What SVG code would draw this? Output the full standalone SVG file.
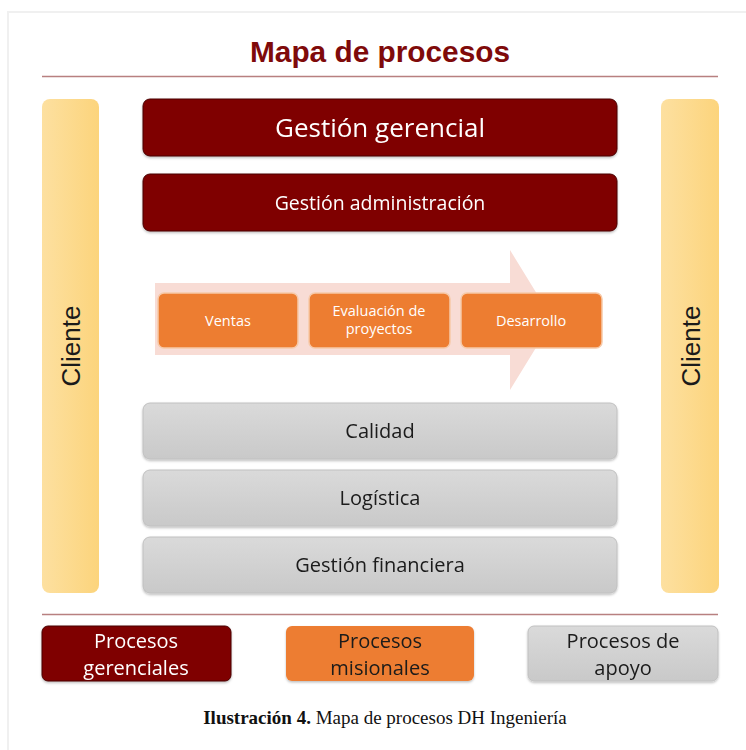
<svg xmlns="http://www.w3.org/2000/svg" width="746" height="750" viewBox="0 0 746 750">
<defs>
<linearGradient id="gy" x1="0" y1="0" x2="1" y2="0">
<stop offset="0" stop-color="#fde0a0"/><stop offset="1" stop-color="#fcd47c"/>
</linearGradient>
<linearGradient id="gg" x1="0" y1="0" x2="0" y2="1">
<stop offset="0" stop-color="#dadada"/><stop offset="1" stop-color="#c9c9c9"/>
</linearGradient>
<filter id="sh" x="-5%" y="-10%" width="110%" height="130%">
<feDropShadow dx="0" dy="1.5" stdDeviation="1.2" flood-color="#000" flood-opacity="0.25"/>
</filter>
</defs>
<style>
.red{fill:#7f0000;stroke:#4a0000;stroke-width:1}
.org{fill:#ed7d31;stroke:#f6c9a8;stroke-width:1.5}
.gry{fill:url(#gg);stroke:#c0c0c0;stroke-width:1}
.yel{fill:url(#gy)}
.t{font-family:"Open Sans","Noto Sans","Liberation Sans",sans-serif;text-anchor:middle}
.w{fill:#ffffff}
.k{fill:#1a1a1a}
</style>
<rect x="0" y="0" width="746" height="750" fill="#ffffff"/>
<path d="M8 750 V12 H746" fill="none" stroke="#f0f0f0" stroke-width="2"/>
<text x="380" y="62" font-family="Liberation Sans, Arial, sans-serif" font-weight="bold" font-size="29" fill="#7f0a0a" text-anchor="middle" textLength="260" lengthAdjust="spacingAndGlyphs">Mapa de procesos</text>
<line x1="42" y1="76.5" x2="718" y2="76.5" stroke="#b88080" stroke-width="1.5"/>

<g id="cliente-izq">
<rect class="yel" x="42" y="99" width="57" height="494" rx="8"/>
<text class="k" transform="translate(80 346) rotate(-90)" font-family="Liberation Sans, Arial, sans-serif" font-size="26" text-anchor="middle">Cliente</text>
</g>
<g id="cliente-der">
<rect class="yel" x="661" y="99" width="58" height="494" rx="8"/>
<text class="k" transform="translate(700 346) rotate(-90)" font-family="Liberation Sans, Arial, sans-serif" font-size="26" text-anchor="middle">Cliente</text>
</g>

<g id="gestion-gerencial" filter="url(#sh)">
<rect class="red" x="143" y="99" width="474" height="57" rx="7"/>
<text class="t w" x="380" y="137" font-size="26">Gestión gerencial</text>
</g>
<g id="gestion-administracion" filter="url(#sh)">
<rect class="red" x="143" y="174" width="474" height="57" rx="7"/>
<text class="t w" x="380" y="210" font-size="19.5">Gestión administración</text>
</g>

<g id="flecha">
<polygon points="155,283 510,283 510,250 553,320 510,390 510,355 155,355" fill="#f8dcd5"/>
</g>

<g id="ventas">
<rect class="org" x="158" y="293" width="140" height="55" rx="6"/>
<text class="t w" x="228" y="326" font-size="14.5">Ventas</text>
</g>
<g id="evaluacion">
<rect class="org" x="309" y="293" width="141" height="55" rx="6"/>
<text class="t w" x="379" y="316" font-size="14.5">Evaluación de</text>
<text class="t w" x="379" y="334" font-size="14.5">proyectos</text>
</g>
<g id="desarrollo">
<rect class="org" x="461" y="293" width="141" height="55" rx="6"/>
<text class="t w" x="531" y="326" font-size="14.5">Desarrollo</text>
</g>

<g id="calidad" filter="url(#sh)">
<rect class="gry" x="143" y="403" width="474" height="56" rx="7"/>
<text class="t k" x="380" y="438" font-size="20">Calidad</text>
</g>
<g id="logistica" filter="url(#sh)">
<rect class="gry" x="143" y="470" width="474" height="56" rx="7"/>
<text class="t k" x="380" y="505" font-size="20">Logística</text>
</g>
<g id="gestion-financiera" filter="url(#sh)">
<rect class="gry" x="143" y="537" width="474" height="56" rx="7"/>
<text class="t k" x="380" y="572" font-size="20">Gestión financiera</text>
</g>

<line x1="42" y1="614.5" x2="718" y2="614.5" stroke="#b88080" stroke-width="1.5"/>

<g id="leg-gerenciales" filter="url(#sh)">
<rect class="red" x="42" y="626" width="189" height="55" rx="6"/>
<text class="t w" x="136" y="648" font-size="20">Procesos</text>
<text class="t w" x="136" y="675" font-size="20">gerenciales</text>
</g>
<g id="leg-misionales" filter="url(#sh)">
<rect x="286" y="626" width="188" height="55" rx="6" fill="#ed7d31"/>
<text class="t k" x="380" y="648" font-size="20">Procesos</text>
<text class="t k" x="380" y="675" font-size="20">misionales</text>
</g>
<g id="leg-apoyo" filter="url(#sh)">
<rect class="gry" x="528" y="626" width="190" height="55" rx="6"/>
<text class="t k" x="623" y="648" font-size="20">Procesos de</text>
<text class="t k" x="623" y="675" font-size="20">apoyo</text>
</g>

<text x="385" y="724" font-family="Liberation Serif, Times New Roman, serif" font-size="19" fill="#111" text-anchor="middle"><tspan font-weight="bold">Ilustración 4.</tspan> Mapa de procesos DH Ingeniería</text>
</svg>
